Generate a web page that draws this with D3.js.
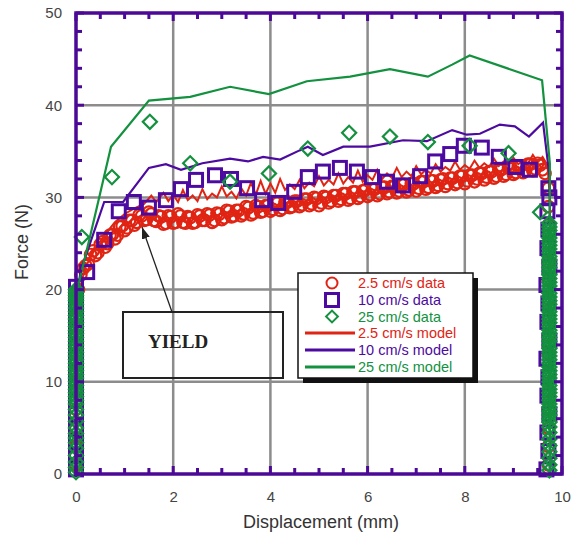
<!DOCTYPE html>
<html lang="en">
  <head>
    <meta charset="utf-8"/>
    <title>Force vs Displacement</title>
    <script src="https://d3js.org/d3.v7.min.js"></script>
    <style>
      body { margin: 0; background: #fff; }
      svg { display: block; font-family: Arial, "Liberation Sans", Helvetica, sans-serif; }
    </style>
  </head>
  <body>
    <div id="chart"></div>
    <script>
    // ---- data ----
    // 2.5 cm/s data (circles), loading curve, two interleaved passes
    var redX = [0.05,0.1,0.2,0.3,0.4,0.5,0.6,0.7,0.8,0.9,1.0,1.1,1.2,1.3,1.4,1.5,1.6,1.7,1.8,1.9,
                2.0,2.1,2.2,2.3,2.4,2.5,2.6,2.7,2.8,2.9,3.0,3.1,3.2,3.3,3.4,3.5,3.6,3.7,3.8,3.9,
                4.0,4.1,4.2,4.3,4.4,4.5,4.6,4.7,4.8,4.9,5.0,5.1,5.2,5.3,5.4,5.5,5.6,5.7,5.8,5.9,
                6.0,6.1,6.2,6.3,6.4,6.5,6.6,6.7,6.8,6.9,7.0,7.1,7.2,7.3,7.4,7.5,7.6,7.7,7.8,7.9,
                8.0,8.1,8.2,8.3,8.4,8.5,8.6,8.7,8.8,8.9,9.0,9.1,9.2,9.3,9.4,9.5,9.6,9.65];
    var redY = [20.0,21.6,22.6,23.8,23.7,24.9,24.6,25.9,25.5,26.8,26.4,27.5,27.0,28.1,27.5,28.4,27.5,28.0,27.1,28.0,
                27.2,28.2,27.3,27.9,27.2,28.1,27.5,28.2,27.3,28.3,27.6,28.6,27.9,28.6,28.0,29.0,28.1,29.1,28.4,29.1,
                28.5,29.5,28.6,29.5,28.9,29.6,29.0,29.8,29.1,30.0,29.1,30.1,29.4,30.2,29.6,30.4,29.7,30.6,29.9,30.7,
                30.1,30.9,30.2,31.1,30.4,31.2,30.5,31.4,30.6,31.5,30.7,31.7,30.9,31.8,31.1,31.9,31.2,32.1,31.4,32.3,
                31.5,32.4,31.7,32.6,31.9,32.8,32.1,33.0,32.3,33.2,32.5,33.4,32.7,33.6,32.9,33.7,33.0,32.6];
    var redX2 = [0.15,0.25,0.35,0.45,0.55,0.65,0.75,0.85,0.95,1.05,1.15,1.25,1.35,1.45,1.55,1.65,1.75,1.85,1.95,
                 2.05,2.15,2.25,2.35,2.45,2.55,2.65,2.75,2.85,2.95,3.05,3.15,3.25,3.35,3.45,3.55,3.65,3.75,3.85,3.95,
                 4.05,4.15,4.25,4.35,4.45,4.55,4.65,4.75,4.85,4.95,5.05,5.15,5.25,5.35,5.45,5.55,5.65,5.75,5.85,5.95,
                 6.05,6.15,6.25,6.35,6.45,6.55,6.65,6.75,6.85,6.95,7.05,7.15,7.25,7.35,7.45,7.55,7.65,7.75,7.85,7.95,
                 8.05,8.15,8.25,8.35,8.45,8.55,8.65,8.75,8.85,8.95,9.05,9.15,9.25,9.35,9.45,9.55];
    var redY2 = [22.3,22.8,24.2,24.0,25.2,25.0,26.0,25.9,26.9,26.7,27.5,27.3,28.0,27.6,28.2,27.4,27.9,27.2,27.9,
                 27.3,28.0,27.2,27.8,27.3,28.0,27.5,28.1,27.5,28.2,27.8,28.5,28.0,28.6,28.2,28.9,28.3,29.0,28.5,29.1,
                 28.7,29.4,28.8,29.5,29.0,29.6,29.2,29.8,29.3,29.9,29.4,30.0,29.6,30.2,29.8,30.4,29.9,30.6,30.1,30.8,
                 30.3,30.9,30.4,31.1,30.6,31.2,30.7,31.4,30.8,31.5,31.0,31.7,31.1,31.8,31.3,32.0,31.5,32.1,31.6,32.3,
                 31.8,32.4,32.0,32.6,32.2,32.8,32.3,33.0,32.5,33.2,32.7,33.4,32.9,33.6,33.1,33.5];
    // circles stacked at the ends of the stroke
    var redColX = [0,0,0,0,0,0,0,0,0,0,9.72,9.72,9.72,9.72,9.72,9.72,9.72,9.72,9.72,9.72,9.72,9.72,9.72,9.72,9.72,9.72];
    var redColY = [1,3,5,7,9,11,13,15,17,19,1,3,5,7,9,11,13,15,17,19,21,23,25,27,29,31];

    // 10 cm/s data (squares)
    var purpleX = [0.0,0.23,0.58,0.88,1.19,1.5,1.85,2.16,2.47,2.86,3.19,3.52,3.83,4.16,4.49,4.77,5.08,5.43,5.78,
                   6.09,6.4,6.73,7.08,7.39,7.7,7.98,8.35,8.7,9.04,9.34,9.72];
    var purpleY = [20.3,21.9,25.4,28.5,29.5,28.9,29.7,30.9,31.9,32.4,32.0,31.0,29.7,29.4,30.6,32.2,32.8,33.2,32.8,
                   32.2,31.7,31.3,32.3,33.9,34.7,35.6,35.4,34.4,33.3,33.0,31.0];
    var purpleColX = [0,0,0,0,0,0,0,0,0,0,0,0,0,0,9.68,9.72,9.7,9.74,9.7,9.72,9.68,9.74,9.7,9.72,9.68,9.74,9.7,9.72,9.7,9.74];
    var purpleColY = [0.5,2,3.5,5,6.5,8,9.5,11,12.5,14,15.5,17,18.5,19.5,0.5,2.5,4.5,6.5,8.5,10.5,12.5,14.5,16.5,18.5,20.5,22.5,24.5,26.5,28.5,30];

    // 25 cm/s data (diamonds)
    var greenX = [0.12,0.74,1.52,2.35,3.17,3.97,4.77,5.62,6.46,7.24,8.1,8.9,9.55];
    var greenY = [25.7,32.2,38.2,33.7,31.7,32.6,35.3,37.0,36.6,36.0,35.6,34.8,28.4];
    var greenColLeftY = [0.2,0.7,1.3,2.0,2.8,3.4,3.9,4.4,5.0,5.7,6.4,7.0,7.6,8.0,8.4,8.8,9.2,9.6,10.0,10.4,
                         10.8,11.2,11.6,12.0,12.4,12.8,13.2,13.6,14.0,14.4,14.8,15.2,15.6,16.0,16.4,16.8,17.2,17.6,
                         18.0,18.4,18.8,19.1,19.4,19.7,20.0];
    var greenColRightY = [0.4,1.0,1.7,2.4,3.1,3.8,4.5,5.1,5.6,6.0,6.4,6.8,7.2,7.6,8.0,8.4,8.8,9.2,9.6,10.0,
                          10.4,10.8,11.2,11.6,12.0,12.4,12.8,13.2,13.6,14.0,14.4,14.8,15.2,15.6,16.0,16.4,16.8,
                          17.2,17.6,18.0,18.4,18.8,19.2,19.6,20.0,20.4,20.8,21.2,21.6,22.0,22.4,22.8,23.2,23.6,
                          24.0,24.4,24.8,25.2,25.6,26.0,26.4,26.8,27.2];

    // model curves
    var redModelX = [0,0.02,0.2,0.4,0.6,0.8,1.0,1.2,1.4,1.55,1.65,1.8,1.9,2.0,2.1,2.2,2.3,2.4,2.5,2.6,2.7,2.8,2.9,
                     3.0,3.1,3.2,3.3,3.4,3.5,3.6,3.7,3.8,3.9,4.0,4.1,4.2,4.3,4.4,4.5,4.6,4.7,4.8,4.9,
                     5.0,5.1,5.2,5.3,5.4,5.5,5.6,5.7,5.8,5.9,6.0,6.1,6.2,6.3,6.4,6.5,6.6,6.7,6.8,6.9,
                     7.0,7.1,7.2,7.3,7.4,7.5,7.6,7.7,7.8,7.9,8.0,8.1,8.2,8.3,8.4,8.5,8.6,8.7,8.8,8.9,
                     9.0,9.1,9.2,9.3,9.4,9.5,9.6,9.7,9.75,9.75];
    var redModelY = [0,19,22.5,24.5,26,27.3,28.2,28.8,29.3,30.2,29.5,30.5,29.6,30.3,29.5,30.8,29.7,30.2,29.6,30.9,29.8,30.4,30.0,
                     31.2,30.1,30.6,29.9,31.0,30.2,31.6,30.3,31.8,30.4,31.5,30.5,32.0,30.8,31.4,30.9,31.9,31.0,31.6,31.2,
                     32.3,31.3,31.9,31.4,32.6,31.5,32.2,31.6,32.9,31.7,32.4,31.9,33.0,32.0,32.6,32.1,33.2,32.2,32.8,32.3,
                     33.4,32.5,33.0,32.6,33.6,32.8,33.3,32.9,33.9,33.0,33.5,33.1,34.0,33.2,33.7,33.3,34.2,33.4,33.9,33.5,
                     34.3,33.6,34.0,33.7,34.6,33.8,34.4,33.5,30,0];
    var purpleModelX = [0,0.02,0.1,0.58,0.97,1.5,1.85,2.16,2.6,3.17,3.54,3.85,4.2,4.6,4.77,5.08,5.5,6.05,6.73,7.22,7.74,8.04,8.31,8.72,9.03,9.32,9.61,9.75,9.75];
    var purpleModelY = [0,19.5,22.1,29.5,29.5,33.2,33.6,33.0,33.7,34.2,33.9,34.4,34.1,35.1,35.5,34.6,35.5,35.5,36.2,36.1,37.3,36.8,36.9,37.9,37.7,36.6,38.1,32,0];
    var greenModelX = [0,0.04,0.3,0.5,0.72,1.5,2.35,3.17,3.97,4.75,5.64,6.46,7.24,7.74,8.1,9.59,9.75,9.75];
    var greenModelY = [0,20.3,26,30.5,35.5,40.5,40.9,42.0,41.2,42.6,43.1,43.9,43.1,44.4,45.4,42.7,33.7,0];

    // axes
    var xMajor = [0,2,4,6,8,10];
    var xMinor = [0.5,1,1.5,2.5,3,3.5,4.5,5,5.5,6.5,7,7.5,8.5,9,9.5];
    var yMajor = [0,10,20,30,40,50];
    var yMinor = [2,4,6,8,12,14,16,18,22,24,26,28,32,34,36,38,42,44,46,48];
    var legendLabels = ["2.5 cm/s data","10 cm/s data","25 cm/s data","2.5 cm/s model","10 cm/s model","25 cm/s model"];

    var width = 571, height = 535;
    var red = "#e02414", purple = "#4d0aa0", green = "#13913f", frameColor = "#4b0996";

    var svg = d3.select("#chart").append("svg")
        .attr("width", width)
        .attr("height", height);

    var x = d3.scaleLinear().domain([0,10]).range([76,562]);
    var y = d3.scaleLinear().domain([0,50]).range([474,13]);

    function zip(xs, ys) { return xs.map(function(d,i){ return [d, ys[i]]; }); }
    function column(xv, ys) { return ys.map(function(v){ return [xv, v]; }); }

    // grid
    svg.append("g").selectAll("line").data([2,4,6,8]).join("line")
        .attr("x1", d => x(d)).attr("x2", d => x(d))
        .attr("y1", y(0)).attr("y2", y(50))
        .attr("stroke", "#8c8c8c").attr("stroke-width", 2.5);
    svg.append("g").selectAll("line").data([10,20,30,40]).join("line")
        .attr("x1", x(0)).attr("x2", x(10))
        .attr("y1", d => y(d)).attr("y2", d => y(d))
        .attr("stroke", "#8c8c8c").attr("stroke-width", 2.5);

    // tick labels via d3 axes
    var xAxis = svg.append("g").attr("transform", "translate(0," + y(0) + ")")
        .call(d3.axisBottom(x).tickValues(xMajor).tickSize(0).tickPadding(17).tickFormat(d3.format("d")));
    var yAxis = svg.append("g").attr("transform", "translate(" + x(0) + ",0)")
        .call(d3.axisLeft(y).tickValues(yMajor).tickSize(0).tickPadding(14).tickFormat(d3.format("d")));
    [xAxis, yAxis].forEach(function(a){
      a.select(".domain").remove();
      a.selectAll("text").attr("font-size", 15).attr("fill", "#444")
        .attr("font-family", "Arial, 'Liberation Sans', sans-serif");
    });

    // YIELD annotation
    svg.append("defs").append("marker")
        .attr("id", "arrow").attr("viewBox", "0 0 10 10")
        .attr("refX", 10).attr("refY", 5)
        .attr("markerWidth", 9).attr("markerHeight", 9)
        .attr("orient", "auto")
      .append("path").attr("d", "M0,1.5L10,5L0,8.5Z").attr("fill", "#222");
    svg.append("rect").attr("x", 123).attr("y", 312).attr("width", 160).attr("height", 66)
        .attr("fill", "none").attr("stroke", "#222").attr("stroke-width", 2);
    svg.append("text").attr("x", 148).attr("y", 348)
        .attr("font-family", "'Liberation Serif', 'Times New Roman', serif")
        .attr("font-weight", "bold").attr("font-size", 19).attr("fill", "#222")
        .text("YIELD");

    // data markers
    var redPts = zip(redX, redY).concat(zip(redX2, redY2), zip(redColX, redColY));
    svg.append("g").selectAll("circle").data(redPts).join("circle")
        .attr("cx", d => x(d[0])).attr("cy", d => y(d[1])).attr("r", 5.8)
        .attr("fill", "none").attr("stroke", red).attr("stroke-width", 2.2);

    var line = d3.line().x(d => x(d[0])).y(d => y(d[1]));
    svg.append("path").datum(zip(redModelX, redModelY)).attr("d", line)
        .attr("fill", "none").attr("stroke", red).attr("stroke-width", 2);

    var purplePts = zip(purpleX, purpleY).concat(zip(purpleColX, purpleColY));
    svg.append("g").selectAll("rect").data(purplePts).join("rect")
        .attr("x", d => x(d[0]) - 6.5).attr("y", d => y(d[1]) - 6.5)
        .attr("width", 13).attr("height", 13)
        .attr("fill", "none").attr("stroke", purple).attr("stroke-width", 3);

    svg.append("path").datum(zip(purpleModelX, purpleModelY)).attr("d", line)
        .attr("fill", "none").attr("stroke", purple).attr("stroke-width", 2.2);

    var diamond = d3.symbol().type(d3.symbolSquare).size(100);
    var greenPts = zip(greenX, greenY).concat(column(0, greenColLeftY), column(9.74, greenColRightY));
    svg.append("g").selectAll("path").data(greenPts).join("path")
        .attr("d", diamond)
        .attr("transform", d => "translate(" + x(d[0]) + "," + y(d[1]) + ") rotate(45)")
        .attr("fill", "none").attr("stroke", green).attr("stroke-width", 2.2);

    svg.append("path").datum(zip(greenModelX, greenModelY)).attr("d", line)
        .attr("fill", "none").attr("stroke", green).attr("stroke-width", 2.2);

    // arrow on top of the data
    svg.append("line").attr("x1", 172).attr("y1", 312).attr("x2", 142).attr("y2", 227)
        .attr("stroke", "#222").attr("stroke-width", 1.3).attr("marker-end", "url(#arrow)");

    // frame and inward ticks
    svg.append("rect").attr("x", x(0)).attr("y", y(50))
        .attr("width", x(10) - x(0)).attr("height", y(0) - y(50))
        .attr("fill", "none").attr("stroke", frameColor).attr("stroke-width", 3.5);

    function ticks(vals, len, horizontal) {
      var g = svg.append("g").attr("stroke", frameColor).attr("stroke-width", 3);
      vals.forEach(function(v){
        if (horizontal) {
          g.append("line").attr("x1", x(v)).attr("x2", x(v)).attr("y1", y(0)).attr("y2", y(0) - len);
          g.append("line").attr("x1", x(v)).attr("x2", x(v)).attr("y1", y(50)).attr("y2", y(50) + len);
        } else {
          g.append("line").attr("y1", y(v)).attr("y2", y(v)).attr("x1", x(0)).attr("x2", x(0) + len);
          g.append("line").attr("y1", y(v)).attr("y2", y(v)).attr("x1", x(10)).attr("x2", x(10) - len);
        }
      });
    }
    ticks(xMinor, 6, true);
    ticks(xMajor, 8, true);
    ticks(yMinor, 6, false);
    ticks(yMajor, 8, false);

    // axis titles
    svg.append("text").attr("x", 321).attr("y", 528).attr("text-anchor", "middle")
        .attr("font-size", 18).attr("fill", "#333").text("Displacement (mm)");
    svg.append("text").attr("transform", "translate(28,242) rotate(-90)").attr("text-anchor", "middle")
        .attr("font-size", 18).attr("fill", "#333").text("Force (N)");

    // legend
    var lg = svg.append("g");
    lg.append("rect").attr("x", 303).attr("y", 278).attr("width", 175).attr("height", 105).attr("fill", "#111");
    lg.append("rect").attr("x", 298).attr("y", 273).attr("width", 175).attr("height", 105)
        .attr("fill", "#fff").attr("stroke", "#111").attr("stroke-width", 1.5);
    var rowY = [283, 300, 316.5, 333, 350, 367];
    var rowColor = [red, purple, green, red, purple, green];
    lg.append("circle").attr("cx", 332).attr("cy", rowY[0]).attr("r", 5.5)
        .attr("fill", "none").attr("stroke", red).attr("stroke-width", 2);
    lg.append("rect").attr("x", 325.5).attr("y", rowY[1] - 6.5).attr("width", 13).attr("height", 13)
        .attr("fill", "none").attr("stroke", purple).attr("stroke-width", 3);
    lg.append("path").attr("d", d3.symbol().type(d3.symbolSquare).size(70))
        .attr("transform", "translate(332," + rowY[2] + ") rotate(45)")
        .attr("fill", "none").attr("stroke", green).attr("stroke-width", 2);
    [3,4,5].forEach(function(i){
      lg.append("line").attr("x1", 305).attr("x2", 355).attr("y1", rowY[i]).attr("y2", rowY[i])
          .attr("stroke", rowColor[i]).attr("stroke-width", 3);
    });
    lg.selectAll("text.lbl").data(legendLabels).join("text")
        .attr("class", "lbl")
        .attr("x", 358).attr("y", (d,i) => rowY[i] + 5)
        .attr("font-size", 14.5).attr("fill", (d,i) => rowColor[i])
        .text(d => d);
    </script>
  </body>
</html>
